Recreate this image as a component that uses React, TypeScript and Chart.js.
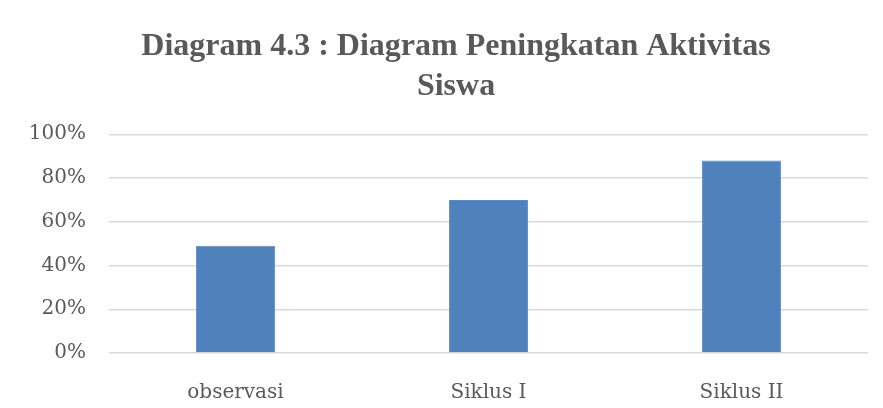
import React, { useEffect, useRef } from "react";
import { Chart, registerables } from "chart.js";

Chart.register(...registerables);

const categories = ["observasi", "Siklus I", "Siklus II"];
const seriesValues = [49, 70, 88];
const yTicks = [0, 20, 40, 60, 80, 100];
const titleLines = ["Diagram 4.3 : Diagram Peningkatan Aktivitas", "Siswa"];

const shiftTitle = {
  id: "shiftTitle",
  afterLayout(chart: any) {
    const t = chart.titleBlock;
    if (t) {
      t.left = 36;
    }
  },
};

export default function App() {
  const ref = useRef<HTMLCanvasElement | null>(null);

  useEffect(() => {
    if (!ref.current) return;
    const chart = new Chart(ref.current, {
      type: "bar",
      data: {
        labels: categories,
        datasets: [
          {
            data: seriesValues,
            backgroundColor: "#4f81bd",
            borderColor: "#5a8ac6",
            borderWidth: 1,
            categoryPercentage: 1,
            barPercentage: 0.312,
          },
        ],
      },
      plugins: [shiftTitle],
      options: {
        animation: false,
        responsive: false,
        maintainAspectRatio: false,
        layout: { padding: { left: 0, right: 15, bottom: 0, top: 0 } },
        plugins: {
          legend: { display: false },
          tooltip: { enabled: false },
          title: {
            display: true,
            text: titleLines,
            color: "#595959",
            font: { family: "'Liberation Serif', 'Times New Roman', serif", size: 32, weight: "bold", lineHeight: 1.27 },
            padding: { top: 18, bottom: 27 },
          },
        },
        scales: {
          x: {
            grid: { display: false },
            border: { display: false },
            afterFit: (axis: any) => {
              axis.height = 55;
            },
            ticks: {
              color: "#595959",
              font: { family: "'DejaVu Serif', serif", size: 20 },
              padding: 20,
            },
          },
          y: {
            min: 0,
            max: 100,
            afterBuildTicks: (axis: any) => {
              axis.ticks = yTicks.map((v) => ({ value: v }));
            },
            afterFit: (axis: any) => {
              axis.width = 101;
            },
            grid: { color: "#d9d9d9", lineWidth: 1.5, drawTicks: false },
            border: { display: false },
            ticks: {
              color: "#595959",
              font: { family: "'DejaVu Serif', serif", size: 20 },
              padding: 23,
              callback: (v: any) => v + "%",
            },
          },
        },
      },
    });
    return () => chart.destroy();
  }, []);

  return (
    <div
      style={{
        width: 877,
        height: 402,
        marginLeft: -2,
        marginTop: -2,
        borderTop: "2px solid #d9d9d9",
        borderLeft: "2px solid #d9d9d9",
        background: "#fff",
        boxSizing: "border-box",
        overflow: "hidden",
      }}
    >
      <canvas ref={ref} width={875} height={400} style={{ display: "block", width: 875, height: 400 }} />
    </div>
  );
}
